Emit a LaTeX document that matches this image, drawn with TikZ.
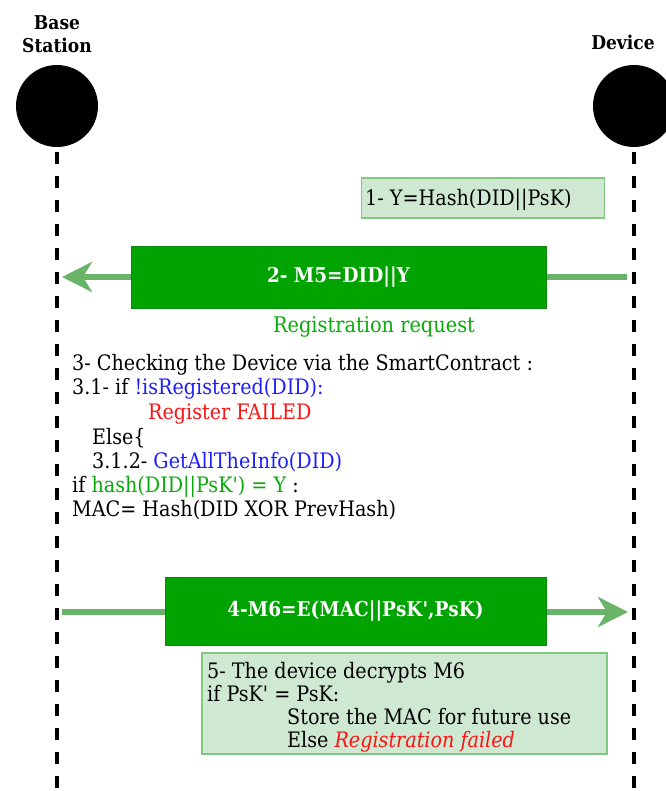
\documentclass[tikz,border=0pt]{standalone}
\usepackage{fontspec}
\setmainfont{DejaVu Serif Condensed}[Ligatures=TeXOff]
\usetikzlibrary{arrows.meta}
\definecolor{boxgreen}{RGB}{0,163,0}
\definecolor{boxgreenedge}{RGB}{10,135,10}
\definecolor{lightfill}{RGB}{207,232,210}
\definecolor{lightedge}{RGB}{130,200,130}
\definecolor{arrowgreen}{RGB}{106,180,106}
\definecolor{txtgreen}{RGB}{10,170,10}
\definecolor{txtblue}{RGB}{30,30,250}
\definecolor{txtred}{RGB}{250,20,20}
\tikzset{
  lifeline/.style={line width=3.5pt, dash pattern=on 12pt off 12pt},
  actor/.style={circle, fill=black, minimum size=82pt, inner sep=0pt},
  actorlabel/.style={font=\bfseries\fontsize{19}{23}\selectfont, align=center},
  msgbox/.style={fill=boxgreen, draw=boxgreenedge, line width=1pt, text=white, font=\fontsize{20.5}{24}\selectfont\bfseries},
  notebox/.style={fill=lightfill, draw=lightedge, line width=1.5pt},
  msgarrow/.style={draw=arrowgreen, line width=6pt, -{Stealth[length=30pt,width=30pt,inset=9pt]}},
  txt/.style={anchor=base west, inner sep=0pt, font=\fontsize{21.3}{25}\selectfont},
}
\begin{document}
\begin{tikzpicture}[x=1pt,y=-1pt]
\useasboundingbox (0,0) rectangle (665,791);
% actors
\node[actorlabel] (bslabel) at (57,34) {Base\\Station};
\node[actorlabel] (devlabel) at (623,42) {Device};
\node[actor] (bs) at (57,106) {};
\node[actor] (dev) at (634,106) {};
\coordinate (bsend) at (57,791);
\coordinate (devend) at (634,791);
\draw[lifeline] (57,152) -- (bsend);
\draw[lifeline] (634,152) -- (devend);
% step 1
\node[notebox, minimum width=243pt, minimum height=40pt] (s1) at (483,198) {};
\node[txt] (s1t) at (365,206) {1- Y=Hash(DID||PsK)};
% step 2
\coordinate (a2s) at (627,277);
\coordinate (a2e) at (62,277);
\draw[msgarrow] (a2s) -- (a2e);
\node[msgbox, minimum width=415pt, minimum height=61pt] (m5) at (338.5,277.5) {2- M5=DID||Y};
\node[font=\fontsize{21.5}{25}\selectfont, text=txtgreen] (reg) at (374,327) {Registration request};
% step 3
\node[txt] (l1) at (72,370) {3- Checking the Device via the SmartContract :};
\node[txt] (l2) at (72,394) {3.1- if \textcolor{txtblue}{!isRegistered(DID):}};
\node[txt, text=txtred] (l3) at (148,419) {Register FAILED};
\node[txt] (l4) at (92,444) {Else\{};
\node[txt] (l5) at (92,468) {3.1.2- \textcolor{txtblue}{GetAllTheInfo(DID)}};
\node[txt] (l6) at (72,492) {if \textcolor{txtgreen}{hash(DID||PsK') = Y} :};
\node[txt] (l7) at (72,516) {MAC= Hash(DID XOR PrevHash)};
% step 4
\coordinate (a4s) at (62,612);
\coordinate (a4e) at (628,612);
\draw[msgarrow] (a4s) -- (a4e);
\node[msgbox, minimum width=381pt, minimum height=68pt] (m6) at (355.5,611) {4-M6=E(MAC||PsK',PsK)};
% step 5
\node[notebox, minimum width=405pt, minimum height=101pt] (s5) at (404.5,703.5) {};
\node[txt] (n1) at (207,678) {5- The device decrypts M6};
\node[txt] (n2) at (207,701) {if PsK' = PsK:};
\node[txt] (n3) at (287,724) {Store the MAC for future use};
\node[txt] (n4) at (287,747) {Else \textcolor{txtred}{\itshape Registration failed}};
\end{tikzpicture}
\end{document}
